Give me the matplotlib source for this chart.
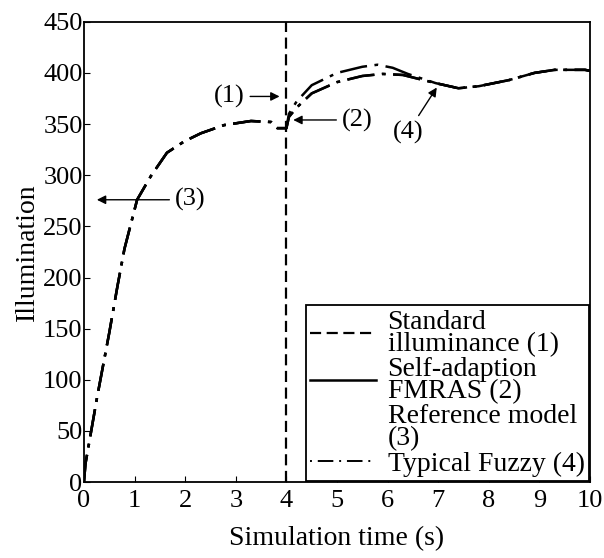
import matplotlib
matplotlib.use("agg")
import matplotlib.pyplot as plt
from matplotlib.lines import Line2D

plt.rcParams["font.family"] = ["Liberation Serif", "DejaVu Serif"]

# Common rise (all controllers follow the reference before the step at t=4)
t_rise = [0, 0.03, 0.26, 0.5, 0.66, 0.8, 1.05, 1.32, 1.64, 1.98, 2.31, 2.77, 3.3, 3.7, 3.82, 4.0]
v_rise = [0, 18, 83, 146, 191, 228, 276, 299, 322, 333, 341, 349, 353, 352, 346, 346]

# After the set-point change
t_fuzzy = [4.0, 4.05, 4.2, 4.5, 5.0, 5.5, 5.8, 6.1, 6.4, 6.95, 7.4, 7.8, 8.4, 8.9, 9.3, 9.9, 10.0]
v_fuzzy = [346, 360, 372, 388, 400, 406, 408, 405, 399, 390, 385, 387, 393, 400, 403, 403, 402]

t_fmras = [4.0, 4.05, 4.2, 4.5, 5.0, 5.5, 5.9, 6.3, 6.95, 7.4, 7.8, 8.4, 8.9, 9.3, 9.9, 10.0]
v_fmras = [346, 357, 366, 380, 391, 397, 399, 398, 390, 385, 387, 393, 400, 403, 403, 402]

t_std = [4, 4]
v_std = [0, 450]

labels = ["Standard\nilluminance (1)", "Self-adaption\nFMRAS (2)",
          "Reference model\n(3)", "Typical Fuzzy (4)"]

t_all_fuzzy = t_rise + t_fuzzy[1:]
v_all_fuzzy = v_rise + v_fuzzy[1:]
t_all_fmras = t_rise + t_fmras[1:]
v_all_fmras = v_rise + v_fmras[1:]

fs = 19
fig, ax = plt.subplots(figsize=(6.04, 5.58), dpi=100)
fig.subplots_adjust(left=0.139, right=0.977, top=0.961, bottom=0.136)

# the printed curves look broken, so the overlapping ones share one dash pattern
curve_ls = (0, (11, 3, 1.5, 3))
ax.plot(t_std, v_std, color="black", lw=1.6, ls=(0, (5, 2.5)))
ax.plot(t_all_fmras, v_all_fmras, color="black", lw=1.8, ls=curve_ls)
ax.plot(t_all_fmras, v_all_fmras, color="black", lw=1.8, ls=curve_ls)
ax.plot(t_all_fuzzy, v_all_fuzzy, color="black", lw=1.8, ls=curve_ls)

ax.set_xlim(0, 10)
ax.set_ylim(0, 450)
ax.set_xticks(range(0, 11))
ax.set_yticks(range(0, 451, 50))
ax.tick_params(direction="in", length=4, labelsize=fs, top=False, right=False)
ax.tick_params(axis="x", pad=6)
ax.tick_params(axis="y", pad=1)
for s in ax.spines.values():
    s.set_linewidth(1.3)

ax.set_xlabel("Simulation time (s)", fontsize=20, labelpad=10)
ax.set_ylabel("Illumination", fontsize=20, labelpad=2)

arrow = dict(arrowstyle="-|>", color="black", lw=1.0, mutation_scale=13)
ax.annotate("(1)", xy=(3.92, 377), xytext=(2.87, 377), fontsize=fs,
            ha="center", va="center", arrowprops=arrow)
ax.annotate("(2)", xy=(4.08, 354), xytext=(5.4, 354), fontsize=fs,
            ha="center", va="center", arrowprops=arrow)
ax.annotate("(3)", xy=(0.2, 276), xytext=(2.1, 276), fontsize=fs,
            ha="center", va="center", arrowprops=arrow)
ax.annotate("(4)", xy=(7.0, 388), xytext=(6.4, 342), fontsize=fs,
            ha="center", va="center", arrowprops=arrow)

handles = [
    Line2D([], [], color="black", lw=1.6, ls=(0, (5, 2.5))),
    Line2D([], [], color="black", lw=1.8, ls="-"),
    Line2D([], [], color="none"),
    Line2D([], [], color="black", lw=1.4, ls=(0, (1, 3, 8, 3))),
]
leg = ax.legend(handles, labels, loc="lower right", bbox_to_anchor=(1.0, 0.0),
                fontsize=20, frameon=True, fancybox=False, edgecolor="black",
                framealpha=1, handlelength=2.4, handletextpad=0.4,
                labelspacing=0.0, borderpad=0.15, borderaxespad=0.05)
leg.get_frame().set_linewidth(1.3)
for txt in leg.get_texts():
    txt.set_linespacing(0.85)

fig.savefig("out.png", dpi=100)
